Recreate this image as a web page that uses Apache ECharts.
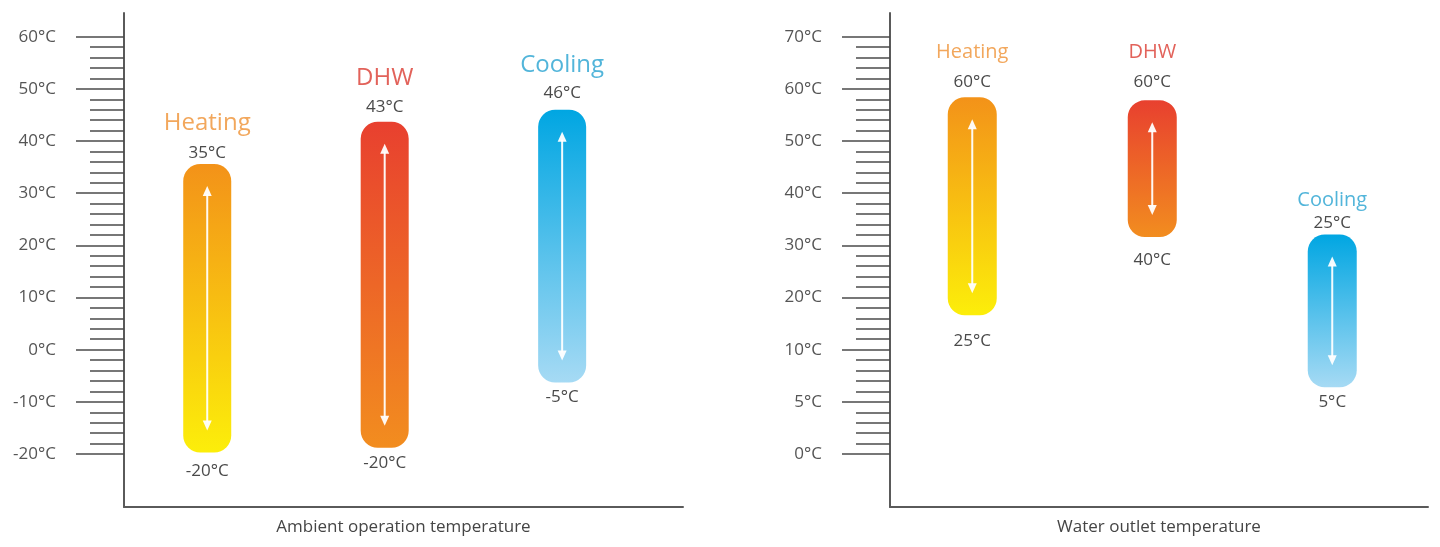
<!DOCTYPE html>
<html>
<head>
<meta charset="utf-8">
<script src="https://cdn.jsdelivr.net/npm/echarts@6/dist/echarts.min.js"></script>
<style>
html,body{margin:0;padding:0;background:#fff;}
#chart{width:1440px;height:547px;}
</style>
</head>
<body>
<div id="chart"></div>
<script>
// ---------- data ----------
const categories = ['Heating', 'DHW', 'Cooling'];

// Ambient operation temperature (left chart)
const ambientTickLabels = ['-20°C', '-10°C', '0°C', '10°C', '20°C', '30°C', '40°C', '50°C', '60°C'];
const ambientMax = [35, 43, 46];
const ambientMin = [-20, -20, -5];
const ambientBarTop = [35.6, 43.7, 46];
const ambientBarBottom = [-19.7, -18.8, -6.3];

// Water outlet temperature (right chart)
const waterTickValues = [0, 5, 10, 20, 30, 40, 50, 60, 70];
const waterTickLabels = ['0°C', '5°C', '10°C', '20°C', '30°C', '40°C', '50°C', '60°C', '70°C'];
const waterMax = [60, 60, 25];
const waterMin = [25, 40, 5];
const waterBarTop = [58.4, 57.8, 32.1];
const waterBarBottom = [16.6, 31.6, 6.4];

// ---------- styles ----------
const FONT = '"Open Sans", "Liberation Sans", sans-serif';
const palettes = [
  ['#f39219', '#fcee0a'],
  ['#e8402f', '#f28d1f'],
  ['#00a6e2', '#a6daf4']
];
const nameColors = ['#f2a75c', '#e2625a', '#52b5da'];
const AXIS_COLOR = '#5a5a5a';

// tick positions of the water axis are evenly spaced: map a temperature onto that scale
function waterScale(v) {
  const t = waterTickValues;
  for (let i = 0; i < t.length - 1; i++) {
    if (v >= t[i] && v <= t[i + 1]) return i + (v - t[i]) / (t[i + 1] - t[i]);
  }
  return v < t[0] ? 0 : t.length - 1;
}

function makeRender(maxArr, minArr, opts) {
  return function (params, api) {
    const i = params.dataIndex;
    const pt = api.coord([api.value(0), api.value(1)]);
    const pb = api.coord([api.value(0), api.value(2)]);
    const cx = pt[0];
    const w = opts.barWidth;
    const top = pt[1], bot = pb[1];
    const inset = 22, headH = 10, headW = 4.5;
    const arrowCol = 'rgba(255,255,255,0.95)';
    return {
      type: 'group',
      children: [
        { type: 'rect', shape: { x: cx - w / 2, y: top, width: w, height: bot - top, r: 17 },
          style: { fill: new echarts.graphic.LinearGradient(0, 0, 0, 1, [
            { offset: 0, color: palettes[i][0] }, { offset: 1, color: palettes[i][1] }]) } },
        { type: 'line', shape: { x1: cx, y1: top + inset + headH - 2, x2: cx, y2: bot - inset - headH + 2 },
          style: { stroke: arrowCol, lineWidth: 2 } },
        { type: 'polygon', shape: { points: [[cx, top + inset], [cx - headW, top + inset + headH], [cx + headW, top + inset + headH]] },
          style: { fill: arrowCol } },
        { type: 'polygon', shape: { points: [[cx, bot - inset], [cx - headW, bot - inset - headH], [cx + headW, bot - inset - headH]] },
          style: { fill: arrowCol } },
        { type: 'text', style: { text: maxArr[i] + '°C', x: cx, y: top - opts.topGap[i], textAlign: 'center', textVerticalAlign: 'middle',
            fill: '#4a4a4a', font: '17px ' + FONT } },
        { type: 'text', style: { text: minArr[i] + '°C', x: cx, y: bot + opts.bottomGap[i], textAlign: 'center', textVerticalAlign: 'middle',
            fill: '#4a4a4a', font: '17px ' + FONT } },
        { type: 'text', style: { text: categories[i], x: cx, y: top - opts.topGap[i] - opts.nameGap[i], textAlign: 'center', textVerticalAlign: 'middle',
            fill: nameColors[i], font: opts.nameSize + 'px ' + FONT } }
      ]
    };
  };
}

// ---------- chart ----------
const chart = echarts.init(document.getElementById('chart'));

function frameX(name) {
  return {
    type: 'value', min: 0, max: 1, position: 'bottom',
    axisLine: { show: true, onZero: false, lineStyle: { color: AXIS_COLOR, width: 2 } },
    axisTick: { show: false }, axisLabel: { show: false }, splitLine: { show: false },
    name: name, nameLocation: 'middle', nameGap: 12,
    nameTextStyle: { color: '#454545', fontSize: 17, fontFamily: FONT, verticalAlign: 'top' }
  };
}
function frameY() {
  return {
    type: 'value', min: 0, max: 1, position: 'left',
    axisLine: { show: true, onZero: false, lineStyle: { color: AXIS_COLOR, width: 2 } },
    axisTick: { show: false }, axisLabel: { show: false }, splitLine: { show: false }
  };
}
function tickY(min, max, labelFn, gridIndex) {
  return {
    type: 'value', gridIndex: gridIndex, min: min, max: max, interval: (max - min) / 8, position: 'left',
    axisLine: { show: false, onZero: false },
    axisTick: { show: true, inside: false, length: 48, lineStyle: { color: '#4a4a4a', width: 1.6 } },
    minorTick: { show: true, splitNumber: 5, length: 34, lineStyle: { color: '#4a4a4a', width: 1.6 } },
    axisLabel: { show: true, margin: 68, color: '#555', fontSize: 17, fontFamily: FONT, formatter: labelFn },
    splitLine: { show: false }, minorSplitLine: { show: false }
  };
}

const option = {
  animation: false,
  backgroundColor: '#ffffff',
  grid: [
    { left: 124, top: 13, width: 559, height: 494 },          // left frame
    { left: 124, top: 36.7, width: 559, height: 417.3 },      // left data
    { left: 890, top: 13, width: 538, height: 494 },          // right frame
    { left: 890, top: 36.7, width: 538, height: 417.3 }       // right data
  ],
  xAxis: [
    Object.assign(frameX('Ambient operation temperature'), { gridIndex: 0 }),
    { type: 'value', gridIndex: 1, min: -0.469, max: 2.681, show: false },
    Object.assign(frameX('Water outlet temperature'), { gridIndex: 2 }),
    { type: 'value', gridIndex: 3, min: -0.457, max: 2.532, show: false }
  ],
  yAxis: [
    Object.assign(frameY(), { gridIndex: 0 }),
    tickY(-20, 60, function (v) { const k = Math.round((v + 20) / 10); return ambientTickLabels[k] || ''; }, 1),
    Object.assign(frameY(), { gridIndex: 2 }),
    tickY(0, 8, function (v) { return waterTickLabels[Math.round(v)] || ''; }, 3)
  ],
  series: [
    {
      type: 'custom', xAxisIndex: 1, yAxisIndex: 1, clip: false,
      renderItem: makeRender(ambientMax, ambientMin, { barWidth: 48, topGap: [11, 15, 17], bottomGap: [19, 15, 15], nameGap: [30, 29, 28], nameSize: 24 }),
      data: categories.map((c, i) => [i, ambientBarTop[i], ambientBarBottom[i]])
    },
    {
      type: 'custom', xAxisIndex: 3, yAxisIndex: 3, clip: false,
      renderItem: makeRender(waterMax, waterMin, { barWidth: 49, topGap: [15, 18, 11], bottomGap: [26, 23, 15], nameGap: [30, 30, 23], nameSize: 20 }),
      data: categories.map((c, i) => [i, waterScale(waterBarTop[i]), waterScale(waterBarBottom[i])])
    }
  ]
};
chart.setOption(option);
</script>
</body>
</html>
